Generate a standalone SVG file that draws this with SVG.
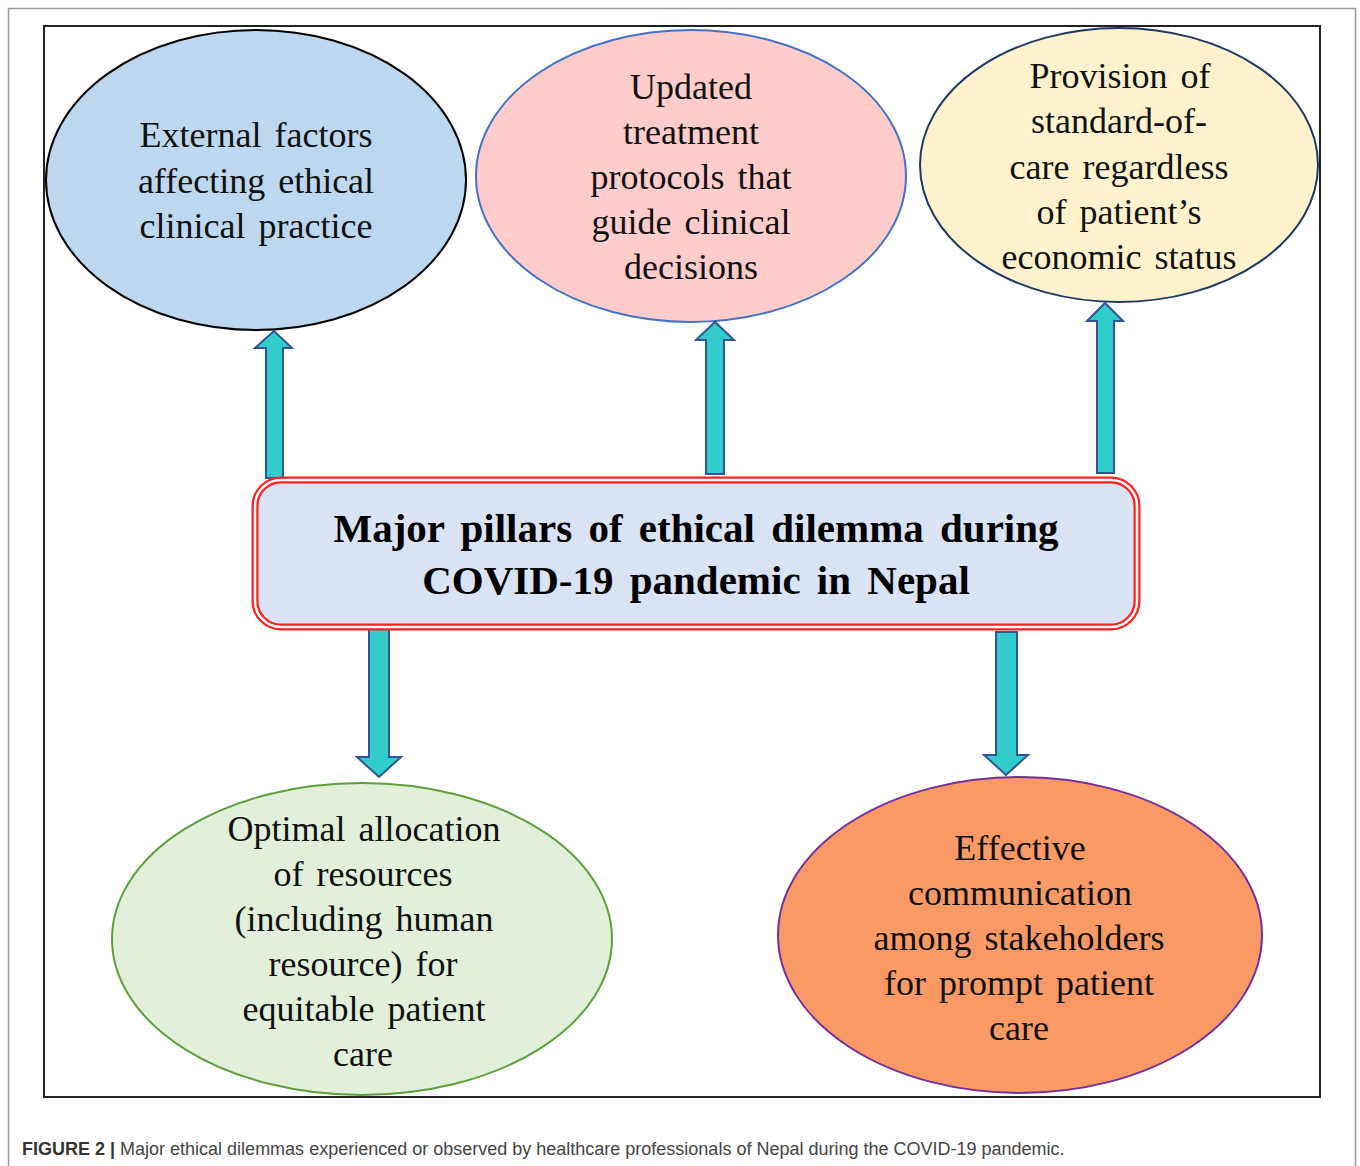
<svg xmlns="http://www.w3.org/2000/svg" width="1360" height="1166" viewBox="0 0 1360 1166">
<style>
.t{font-family:"Liberation Serif","Times New Roman",serif;font-size:36px;fill:#111;text-anchor:middle;word-spacing:4px}
.h{font-family:"Liberation Serif","Times New Roman",serif;font-size:41px;font-weight:bold;fill:#000;text-anchor:middle;word-spacing:6px}
.cap{font-family:"Liberation Sans",Arial,sans-serif;font-size:18px;fill:#444}
.arr{fill:#33CCCC;stroke:#2F5597;stroke-width:2;stroke-linejoin:miter}
</style>
<rect width="1360" height="1166" fill="#fff"/>
<rect x="8.5" y="8.5" width="1347" height="1170" fill="none" stroke="#9a9a9a" stroke-width="1.5"/>
<rect x="44" y="26" width="1276" height="1071" fill="none" stroke="#222" stroke-width="2"/>

<g id="node-external">
<ellipse cx="256" cy="180" rx="210" ry="150" fill="#BDD7EE" stroke="#000" stroke-width="2"/>
<text class="t" x="256" y="147">External factors</text>
<text class="t" x="256" y="193">affecting ethical</text>
<text class="t" x="256" y="238">clinical practice</text>
</g>

<g id="node-protocols">
<ellipse cx="691" cy="176" rx="215" ry="146" fill="#FFCCCC" stroke="#4472C4" stroke-width="2"/>
<text class="t" x="691" y="99">Updated</text>
<text class="t" x="691" y="144">treatment</text>
<text class="t" x="691" y="189">protocols that</text>
<text class="t" x="691" y="234">guide clinical</text>
<text class="t" x="691" y="279">decisions</text>
</g>

<g id="node-standard">
<ellipse cx="1119" cy="165" rx="199" ry="137" fill="#FFF2CC" stroke="#1F3864" stroke-width="2"/>
<text class="t" x="1120" y="88">Provision of</text>
<text class="t" x="1119" y="133">standard-of-</text>
<text class="t" x="1119" y="179">care regardless</text>
<text class="t" x="1119" y="224">of patient’s</text>
<text class="t" x="1119" y="269">economic status</text>
</g>

<g id="node-allocation">
<ellipse cx="362" cy="939" rx="250" ry="156" fill="#E2EFDA" stroke="#5E9E3C" stroke-width="2"/>
<text class="t" x="364" y="841">Optimal allocation</text>
<text class="t" x="363" y="886">of resources</text>
<text class="t" x="364" y="931">(including human</text>
<text class="t" x="363" y="976">resource) for</text>
<text class="t" x="364" y="1021">equitable patient</text>
<text class="t" x="363" y="1066">care</text>
</g>

<g id="node-communication">
<ellipse cx="1020" cy="935" rx="242" ry="158" fill="#F99A66" stroke="#7030A0" stroke-width="2"/>
<text class="t" x="1020" y="860">Effective</text>
<text class="t" x="1020" y="905">communication</text>
<text class="t" x="1019" y="950">among stakeholders</text>
<text class="t" x="1019" y="995">for prompt patient</text>
<text class="t" x="1019" y="1040">care</text>
</g>

<g id="connectors">
<path class="arr" d="M266,478 L266,348 L255,348 L274,331 L292,348 L283,348 L283,478 Z"/>
<path class="arr" d="M706,474 L706,340 L696,340 L715,322 L734,340 L724,340 L724,474 Z"/>
<path class="arr" d="M1097,473 L1097,321 L1087,321 L1105,303 L1123,321 L1114,321 L1114,473 Z"/>
<path class="arr" d="M369,626 L389,626 L389,757 L401,757 L379,777 L357,757 L369,757 Z"/>
<path class="arr" d="M996,632 L1017,632 L1017,755 L1028,755 L1006,775 L984,755 L996,755 Z"/>
</g>

<g id="node-center">
<rect x="255" y="480" width="882" height="147" rx="26" fill="#DAE3F3" stroke="#FF2020" stroke-width="7"/>
<rect x="255" y="480" width="882" height="147" rx="26" fill="none" stroke="#fff" stroke-width="2.5"/>
<text class="h" x="696" y="542">Major pillars of ethical dilemma during</text>
<text class="h" x="696" y="594">COVID-19 pandemic in Nepal</text>
</g>

<text class="cap" x="22" y="1155"><tspan font-weight="bold" fill="#333">FIGURE 2 |</tspan> Major ethical dilemmas experienced or observed by healthcare professionals of Nepal during the COVID-19 pandemic.</text>
</svg>
